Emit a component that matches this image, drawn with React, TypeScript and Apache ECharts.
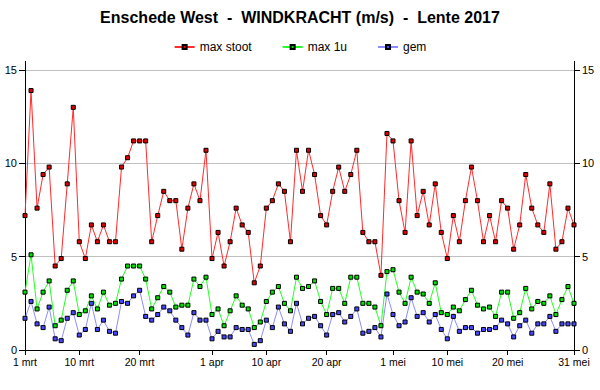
import React, { useEffect, useRef } from "react";
import * as echarts from "echarts";

const monthNames = ["mrt", "apr", "mei"];
const monthLengths = [31, 30, 31];
const categories: string[] = [];
monthNames.forEach((m, mi) => {
  for (let d = 1; d <= monthLengths[mi]; d++) categories.push(`${d} ${m}`);
});

const tickLabels = ["1 mrt", "10 mrt", "20 mrt", "1 apr", "10 apr", "20 apr", "1 mei", "10 mei", "20 mei", "31 mei"];

const maxStoot = [
  7.2, 13.9, 7.6, 9.4, 9.8, 4.5, 4.9, 8.9, 13.0, 5.8, 4.9, 6.7, 5.8, 6.7, 5.8, 5.8, 9.8, 10.3, 11.2, 11.2, 11.2, 5.8, 7.2, 8.5,
  8.0, 8.0, 5.4, 7.6, 8.9, 8.0, 10.7, 4.9, 6.3, 4.5, 5.8, 7.6, 6.7, 6.3, 3.6, 4.5, 7.6, 8.0, 8.9, 8.5, 5.8, 10.7, 8.5,
  10.7, 9.4, 7.2, 6.7, 8.5, 9.8, 8.5, 9.4, 10.7, 6.3, 5.8, 5.8, 4.0, 11.6, 11.2, 8.0, 6.3, 11.2, 7.2, 8.5, 6.7, 8.9, 6.3,
  4.9, 7.2, 5.8, 8.0, 9.8, 8.0, 5.8, 7.2, 5.8, 8.0, 7.6, 5.4, 6.7, 9.4, 7.6, 6.7, 6.3, 8.9, 5.4, 5.8, 7.6, 6.7,
];

const max1u = [
  3.1, 5.1, 2.2, 3.1, 3.7, 1.3, 1.6, 3.2, 3.7, 1.9, 2.1, 2.9, 2.2, 3.1, 2.4, 2.5, 3.8, 4.5, 4.5, 4.5, 3.8, 2.2, 2.8, 3.4,
  3.1, 2.3, 2.4, 2.4, 3.8, 3.4, 3.9, 1.9, 2.2, 1.3, 2.1, 2.9, 2.4, 2.2, 1.2, 1.5, 2.6, 3.1, 3.4, 2.5, 2.1, 3.9, 3.3,
  3.4, 3.7, 2.6, 1.9, 3.3, 3.3, 2.5, 3.9, 3.9, 2.5, 2.5, 2.3, 1.3, 4.2, 4.3, 3.1, 2.5, 3.9, 3.1, 3.0, 2.5, 3.6, 2.0,
  1.9, 2.3, 2.1, 2.7, 3.2, 2.4, 2.2, 2.3, 1.8, 3.1, 3.1, 1.7, 2.0, 3.3, 2.2, 2.6, 2.5, 2.9, 1.9, 2.7, 3.4, 2.5,
];

const gem = [
  1.7, 2.6, 1.4, 1.2, 2.3, 0.6, 0.5, 1.7, 2.0, 0.8, 1.1, 2.5, 1.1, 1.6, 1.0, 0.9, 2.6, 2.5, 2.9, 3.2, 1.8, 1.6, 1.9, 2.3,
  2.1, 1.6, 1.2, 0.8, 2.0, 1.6, 1.6, 0.6, 1.0, 0.7, 0.7, 1.2, 1.1, 1.1, 0.3, 0.5, 1.6, 1.2, 2.3, 1.4, 1.0, 2.5, 1.4,
  1.7, 1.8, 1.3, 0.8, 1.9, 2.0, 1.5, 1.8, 2.2, 0.9, 1.0, 1.2, 0.7, 3.0, 1.9, 1.3, 1.5, 2.8, 1.8, 2.0, 1.5, 1.9, 1.1,
  0.6, 1.8, 1.0, 1.2, 1.2, 0.9, 1.1, 1.1, 1.2, 1.6, 1.4, 0.7, 1.3, 1.6, 0.9, 1.4, 1.4, 1.8, 1.0, 1.4, 1.4, 1.4,
];

const yTicks = { min: 0, max: 15, interval: 5 };

const FONT = "Arial, 'Liberation Sans', sans-serif";

export default function App() {
  const ref = useRef<HTMLDivElement>(null);
  useEffect(() => {
    if (!ref.current) return;
    const chart = echarts.init(ref.current, undefined, { renderer: "svg" });
    const showTick = (_i: number, v: string) => tickLabels.includes(v);
    const yAxisBase = {
      type: "value" as const,
      min: yTicks.min,
      max: yTicks.max,
      interval: yTicks.interval,
      axisLine: { show: true, lineStyle: { color: "#000", width: 1 } },
      axisTick: { show: true, length: 6, lineStyle: { color: "#000" } },
      axisLabel: { color: "#000", fontSize: 11, fontFamily: FONT, margin: 8 },
    };
    const mkSeries = (name: string, data: number[], line: string, fill: string) => ({
      name,
      type: "line" as const,
      data,
      symbol: "rect",
      symbolSize: 4,
      showAllSymbol: true,
      lineStyle: { color: line, width: 1 },
      itemStyle: { color: fill, borderColor: "#000", borderWidth: 1 },
      emphasis: { disabled: true },
    });
    chart.setOption({
      animation: false,
      backgroundColor: "#fff",
      textStyle: { fontFamily: FONT },
      title: {
        text: "Enschede West  -  WINDKRACHT (m/s)  -  Lente 2017",
        left: "center",
        top: 4,
        textStyle: { fontSize: 16, fontWeight: "bold", color: "#000", fontFamily: FONT },
      },
      legend: {
        top: 36,
        left: "center",
        itemWidth: 20,
        itemHeight: 5,
        itemGap: 30,
        textStyle: { fontSize: 12, color: "#000", fontFamily: FONT },
        data: ["max stoot", "max 1u", "gem"],
      },
      grid: { left: 25, right: 26, top: 70, bottom: 40, containLabel: false },
      xAxis: {
        type: "category",
        data: categories,
        boundaryGap: false,
        axisLine: { show: true, lineStyle: { color: "#000", width: 1 } },
        axisTick: { show: true, interval: showTick, length: 5, lineStyle: { color: "#000" } },
        axisLabel: { interval: showTick, color: "#000", fontSize: 10.5, fontFamily: FONT, margin: 6 },
        splitLine: { show: false },
      },
      yAxis: [
        { ...yAxisBase, position: "left", splitLine: { show: true, lineStyle: { color: "#c0c0c0", width: 1 } } },
        { ...yAxisBase, position: "right", splitLine: { show: false } },
      ],
      graphic: [
        { type: "rect", shape: { x: 25, y: 61, width: 1, height: 9 }, style: { fill: "#000" }, silent: true },
        { type: "rect", shape: { x: 574, y: 61, width: 1, height: 9 }, style: { fill: "#000" }, silent: true },
      ],
      series: [
        mkSeries("gem", gem, "#8c8cff", "#4646ff"),
        mkSeries("max 1u", max1u, "#22ff22", "#00e000"),
        mkSeries("max stoot", maxStoot, "#ff2a2a", "#e00000"),
      ],
    });
    return () => chart.dispose();
  }, []);
  return (
    <div
      ref={ref}
      style={{ position: "fixed", left: 0, top: 0, width: 600, height: 390, background: "#fff" }}
    />
  );
}
